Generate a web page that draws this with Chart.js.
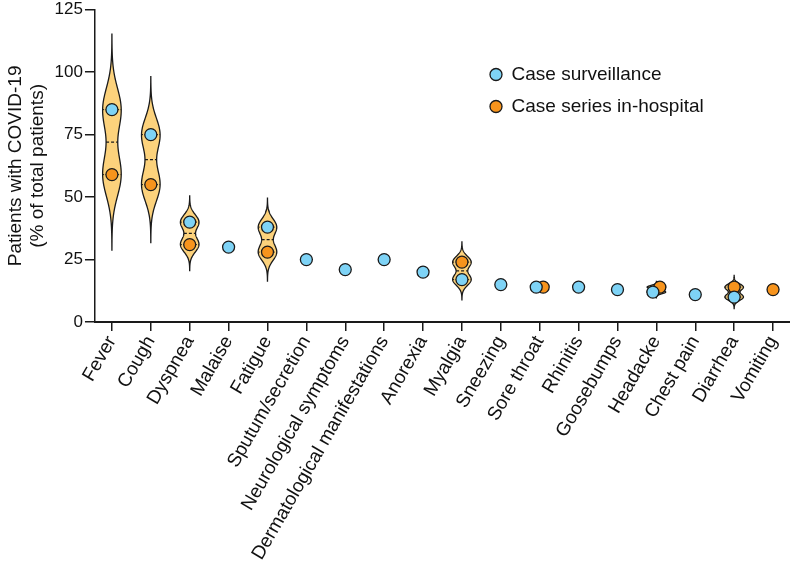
<!DOCTYPE html>
<html><head><meta charset="utf-8">
<script src="https://cdn.jsdelivr.net/npm/chart.js@4.4.1/dist/chart.umd.min.js"></script>
<style>html,body{margin:0;padding:0;background:#fff;} #wrap{width:790px;height:565px;position:relative;}</style>
</head><body><div id="wrap"><canvas id="c"></canvas></div>
<script>
const categories = ['Fever','Cough','Dyspnea','Malaise','Fatigue','Sputum/secretion','Neurological symptoms','Dermatological manifestations','Anorexia','Myalgia','Sneezing','Sore throat','Rhinitis','Goosebumps','Headacke','Chest pain','Diarrhea','Vomiting'];
const surveillance = [85, 75, 40, 30, 38, 25, 21, 25, 20, 17, 15, 14, 14, 13, 12, 11, 10, null];
const hospital     = [59, 55, 31, null, 28, null, null, null, null, 24, null, 14, null, null, 14, null, 14, 13];
const yTicks = [0, 25, 50, 75, 100, 125];
const seriesNames = ['Case surveillance', 'Case series in-hospital'];

const INK = '#1a1a1a';
Chart.defaults.font.family = "Arial, 'Liberation Sans', Helvetica, sans-serif";
Chart.defaults.color = '#111';

function toPoints(arr){ return arr.map((v,i)=> v==null?null:{x:i,y:v}).filter(Boolean); }

const violinPlugin = {
  id:'violin',
  beforeDatasetsDraw(chart){
    const {ctx} = chart; const xs = chart.scales.x, ys = chart.scales.y;
    categories.forEach((c,i)=>{
      const a = surveillance[i], b = hospital[i];
      if(a==null||b==null||a===b) return;
      const lo=Math.min(a,b), hi=Math.max(a,b), d=hi-lo;
      const bw = 0.33*d, ext = 1.16*d;
      const vmin = lo-ext, vmax = hi+ext;
      const N=160; const dens=[]; let mx=0;
      const kde = v => Math.exp(-0.5*((v-a)/bw)**2)+Math.exp(-0.5*((v-b)/bw)**2);
      for(let k=0;k<=N;k++){ const v = vmin+(vmax-vmin)*k/N; const g = kde(v); dens.push([v,g]); mx=Math.max(mx,g); }
      const cx = xs.getPixelForValue(i), W=9.3;
      ctx.save();
      ctx.beginPath();
      dens.forEach(([v,g],k)=>{ const px=cx+W*g/mx, py=ys.getPixelForValue(v); k?ctx.lineTo(px,py):ctx.moveTo(px,py); });
      for(let k=N;k>=0;k--){ const [v,g]=dens[k]; ctx.lineTo(cx-W*g/mx, ys.getPixelForValue(v)); }
      ctx.closePath();
      ctx.fillStyle='#FCD27C'; ctx.fill();
      ctx.lineWidth=1.3; ctx.strokeStyle=INK; ctx.stroke();
      const med=(a+b)/2; const wm=W*kde(med)/mx; const pm=ys.getPixelForValue(med);
      ctx.beginPath(); ctx.setLineDash([3,2]); ctx.lineWidth=1.2;
      ctx.moveTo(cx-wm,pm); ctx.lineTo(cx+wm,pm); ctx.stroke();
      ctx.setLineDash([1.5,1.5]); ctx.lineWidth=1;
      [lo,hi].forEach(q=>{ const wq=W*kde(q)/mx, pq=ys.getPixelForValue(q); ctx.beginPath(); ctx.moveTo(cx-wq,pq); ctx.lineTo(cx+wq,pq); ctx.stroke(); });
      ctx.restore();
    });
  }
};

const jitterPlugin = {
  id:'jitter',
  afterDatasetsUpdate(chart){
    const m0 = chart.getDatasetMeta(0), m1 = chart.getDatasetMeta(1);
    const d0 = chart.data.datasets[0].data, d1 = chart.data.datasets[1].data;
    const byX = {};
    m0.data.forEach((el,k)=>{ byX[d0[k].x]=el; });
    m1.data.forEach((el,k)=>{
      const e0 = byX[d1[k].x];
      if(e0 && Math.abs(e0.y-el.y) < 9){ e0.x -= 3.5; el.x += 3.5; }
    });
  }
};

const legendPos = {
  id:'legendPos',
  afterLayout(chart){
    const L = chart.legend; if(!L) return;
    const w=L.width, h=L.height;
    L.left=477; L.top=52; L.right=477+w; L.bottom=52+h;
  }
};

new Chart(document.getElementById('c'), {
  type:'scatter',
  data:{ datasets:[
    { label:seriesNames[0], data:toPoints(surveillance), backgroundColor:'#7ED3F6', borderColor:INK, borderWidth:1.3, pointRadius:6, pointHoverRadius:6 },
    { label:seriesNames[1], data:toPoints(hospital), backgroundColor:'#F7941D', borderColor:INK, borderWidth:1.3, pointRadius:6, pointHoverRadius:6 }
  ]},
  options:{
    responsive:true, maintainAspectRatio:false, animation:false,
    layout:{ autoPadding:false, padding:{ left:2, right:0, top:0, bottom:0 } },
    plugins:{
      tooltip:{enabled:false},
      legend:{ position:'chartArea', align:'start',
        labels:{ usePointStyle:true, pointStyle:'circle', boxWidth:12, boxHeight:8.5, padding:13, font:{size:19}, color:'#111' } }
    },
    scales:{
      x:{ type:'linear', min:-0.436, max:17.436,
        afterBuildTicks(s){ s.ticks = categories.map((_,i)=>({value:i})); },
        afterFit(s){ s.paddingRight = 0; },
        ticks:{ autoSkip:false, maxRotation:60, minRotation:60, callback:(v)=>categories[v], font:{size:19, lineHeight:1.0}, color:'#111', padding:2 },
        grid:{ drawOnChartArea:false, drawTicks:true, tickLength:9, color:INK, lineWidth:1.5 },
        border:{ display:true, color:INK, width:2, dash:[1.5,1.5] }
      },
      y:{ min:0, max:125,
        afterBuildTicks(s){ s.ticks = yTicks.map(v=>({value:v})); },
        ticks:{ font:{size:17, lineHeight:0.9}, color:'#111', padding:2 },
        grid:{ drawOnChartArea:false, drawTicks:true, tickLength:10, color:INK, lineWidth:1.5 },
        border:{ display:true, color:INK, width:1.5 },
        title:{ display:true, text:['Patients with COVID-19','(% of total patients)'], font:{size:19, lineHeight:1.2}, color:'#111', padding:{top:2,bottom:3} }
      }
    }
  },
  plugins:[violinPlugin, jitterPlugin, legendPos]
});
</script>
</body></html>
